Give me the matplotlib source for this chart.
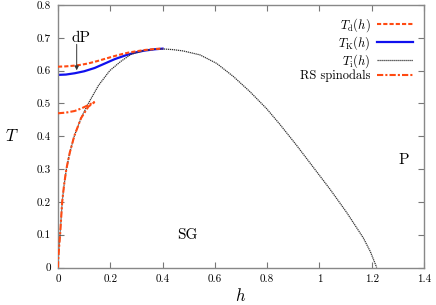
import numpy as np
import matplotlib
matplotlib.use("Agg")
import matplotlib.pyplot as plt

plt.rcParams['font.family'] = 'serif'
plt.rcParams['font.serif'] = ['cmr10', 'DejaVu Serif']
plt.rcParams['mathtext.fontset'] = 'cm'
plt.rcParams['axes.formatter.use_mathtext'] = True

# T_i(h) line
h_i = [0.0, 0.001, 0.003, 0.008, 0.016, 0.023, 0.032, 0.045, 0.062, 0.088, 0.116,
       0.155, 0.198, 0.24, 0.28, 0.33, 0.37, 0.403, 0.44, 0.479, 0.543, 0.607,
       0.671, 0.734, 0.798, 0.849, 0.913, 0.977, 1.041, 1.104, 1.168, 1.195, 1.219]
T_i = [0.0, 0.025, 0.05, 0.1, 0.2, 0.25, 0.3, 0.35, 0.4, 0.455, 0.5,
       0.555, 0.6, 0.628, 0.65, 0.661, 0.665, 0.666, 0.664, 0.66, 0.648, 0.622,
       0.582, 0.536, 0.484, 0.436, 0.372, 0.305, 0.238, 0.168, 0.09, 0.048, 0.0]

# T_d(h)
h_d = [0.0, 0.03, 0.06, 0.09, 0.116, 0.15, 0.18, 0.21, 0.243, 0.27, 0.3, 0.333, 0.37, 0.4]
T_d = [0.612, 0.613, 0.615, 0.618, 0.622, 0.629, 0.636, 0.643, 0.650, 0.655, 0.659,
       0.663, 0.666, 0.667]

# T_K(h)
h_k = [0.0, 0.03, 0.064, 0.1, 0.14, 0.18, 0.217, 0.26, 0.294, 0.33, 0.37, 0.4]
T_k = [0.587, 0.588, 0.592, 0.598, 0.608, 0.622, 0.635, 0.647, 0.655, 0.661, 0.665, 0.667]

# RS spinodals: upper and lower branch
h_s1 = [0.0, 0.03, 0.064, 0.09, 0.116, 0.141]
T_s1 = [0.47, 0.472, 0.477, 0.485, 0.495, 0.505]
h_s2 = [0.0, 0.001, 0.003, 0.008, 0.016, 0.023, 0.032, 0.045, 0.062, 0.088, 0.116, 0.141]
T_s2 = [0.0, 0.025, 0.05, 0.1, 0.2, 0.25, 0.3, 0.35, 0.4, 0.455, 0.49, 0.505]

orange = '#ff4a12'

fig = plt.figure(figsize=(4.36, 3.05), dpi=100)
ax = fig.add_axes([58/436, 1-267.5/305, 366/436, 262.5/305])

ax.plot(h_d, T_d, color=orange, lw=1.5, ls=(0, (2, 1)), label=r'$T_{\rm d}(h)$', zorder=3)
ax.plot(h_k, T_k, color='#1010ee', lw=1.6, label=r'$T_{\rm K}(h)$', zorder=2)
ax.plot(h_i, T_i, color='#333333', lw=0.9, ls=(0, (1, 0.6)), label=r'$T_{\rm i}(h)$', zorder=2)
ax.plot(h_s1, T_s1, color=orange, lw=1.5, ls=(0, (3, 1, 1, 1)), label='RS spinodals', zorder=4)
ax.plot(h_s2, T_s2, color=orange, lw=1.5, ls=(0, (3, 1, 1, 1)), zorder=4)

ax.set_xlim(0, 1.4)
ax.set_ylim(0, 0.8)
ax.set_xticks([0, 0.2, 0.4, 0.6, 0.8, 1.0, 1.2, 1.4])
ax.set_xticklabels(['0', '0.2', '0.4', '0.6', '0.8', '1', '1.2', '1.4'])
ax.set_yticks([0, 0.1, 0.2, 0.3, 0.4, 0.5, 0.6, 0.7, 0.8])
ax.set_yticklabels(['0', '0.1', '0.2', '0.3', '0.4', '0.5', '0.6', '0.7', '0.8'])
ax.tick_params(direction='in', top=True, right=True, length=4, width=0.8,
               color='#777777', labelsize=8, pad=5)
for s in ax.spines.values():
    s.set_color('#888888')
    s.set_linewidth(1.0)

ax.set_xlabel(r'$h$', fontsize=12, labelpad=2)
ax.set_ylabel(r'$T$', fontsize=12, rotation=0, labelpad=18, va='center')

ax.annotate('', xy=(0.0715, 0.601), xytext=(0.0715, 0.68),
            arrowprops=dict(arrowstyle='-|>', color='#333333', lw=0.7,
                            mutation_scale=6, shrinkA=0, shrinkB=0))
ax.text(0.088, 0.686, 'dP', fontsize=11, ha='center', va='baseline')
ax.text(0.494, 0.099, 'SG', fontsize=11, ha='center', va='center')
ax.text(1.324, 0.328, 'P', fontsize=11, ha='center', va='center')

leg = ax.legend(loc='upper right', frameon=False, markerfirst=False, fontsize=9,
                handlelength=2.9, labelspacing=0.0, borderaxespad=0.5,
                handletextpad=0.5)

fig.savefig('out.png', dpi=100)
